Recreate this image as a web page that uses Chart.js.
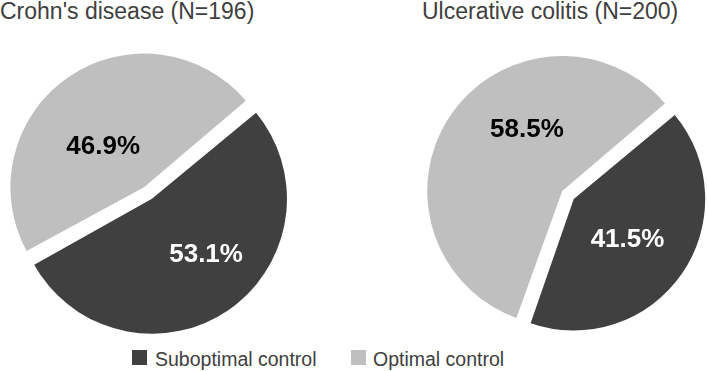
<!DOCTYPE html>
<html>
<head>
<meta charset="utf-8">
<script src="https://cdn.jsdelivr.net/npm/chart.js@4.4.1/dist/chart.umd.min.js"></script>
<style>
  body { margin: 0; background: #fff; font-family: "Liberation Sans", Arial, sans-serif; }
  #wrap { position: relative; width: 708px; height: 371px; overflow: hidden; }
  .titulo { position: absolute; top: 0; font-size: 23px; line-height: 23px; color: #404040; white-space: nowrap; }
  .box { position: absolute; }
  .leg { position: absolute; top: 350px; font-size: 19.5px; line-height: 19px; color: #404040; white-space: nowrap; }
  .leg span.q { position: absolute; top: 0; width: 15px; height: 15px; }
</style>
</head>
<body>
<div id="wrap">
  <div class="titulo" id="titulo_cd" style="left:0px"></div>
  <div class="titulo" id="titulo_uc" style="left:422px"></div>
  <div class="box" style="left:6px; top:51px; width:284px; height:284px"><canvas id="grafico_cd"></canvas></div>
  <div class="box" style="left:426px; top:53px; width:284px; height:284px"><canvas id="grafico_uc"></canvas></div>
  <div class="leg" style="left:132px"><span class="q" style="left:0; background:#404040"></span><span style="position:absolute; left:23px; top:0">Suboptimal control</span></div>
  <div class="leg" style="left:351px"><span class="q" style="left:0; background:#bfbfbf"></span><span style="position:absolute; left:22px; top:0">Optimal control</span></div>
</div>
<script>
const categorias = ['Suboptimal control', 'Optimal control']
const cores = ['#404040', '#bfbfbf']
const cor_texto = ['#ffffff', '#000000']

const titulo_cd = "Crohn's disease (N=196)"
const valores_cd = [53.1, 46.9]

const titulo_uc = 'Ulcerative colitis (N=200)'
const valores_uc = [41.5, 58.5]

document.querySelector('#titulo_cd').textContent = titulo_cd
document.querySelector('#titulo_uc').textContent = titulo_uc

// escreve as porcentagens dentro das fatias
const rotulos = {
    id: 'rotulos',
    afterDatasetsDraw(chart, args, opts) {
        const ctx = chart.ctx
        const meta = chart.getDatasetMeta(0)
        const dados = chart.data.datasets[0].data
        ctx.save()
        ctx.font = 'bold 26px "Liberation Sans", Arial, sans-serif'
        ctx.textAlign = 'center'
        ctx.textBaseline = 'middle'
        meta.data.forEach((arc, i) => {
            const p = arc.getProps(['x', 'y', 'startAngle', 'endAngle', 'outerRadius'], true)
            const ajuste = opts.ajustes[i]
            const meio = (p.startAngle + p.endAngle) / 2 + ajuste.angulo * Math.PI / 180
            const x = p.x + Math.cos(meio) * p.outerRadius * ajuste.dist
            const y = p.y + Math.sin(meio) * p.outerRadius * ajuste.dist
            ctx.fillStyle = cor_texto[i]
            ctx.fillText(dados[i].toFixed(1) + '%', x, y)
        })
        ctx.restore()
    }
}

function criarPizza(canvas, valores, ajustes) {
    return new Chart(canvas, {
        type: 'pie',
        data: {
            labels: categorias,
            datasets: [{
                data: valores,
                backgroundColor: cores,
                borderWidth: 0,
                offset: 28,
            }]
        },
        options: {
            responsive: true,
            maintainAspectRatio: false,
            animation: false,
            rotation: 50,
            layout: { padding: 0 },
            plugins: {
                legend: { display: false },
                tooltip: { enabled: false },
                rotulos: { ajustes: ajustes }
            }
        },
        plugins: [rotulos]
    })
}

const graficoCD = criarPizza(document.querySelector('#grafico_cd'), valores_cd,
    [{ angulo: -9, dist: 0.66 }, { angulo: -10, dist: 0.5 }])
const graficoUC = criarPizza(document.querySelector('#grafico_uc'), valores_uc,
    [{ angulo: 2, dist: 0.58 }, { angulo: 23, dist: 0.6 }])
</script>
</body>
</html>
